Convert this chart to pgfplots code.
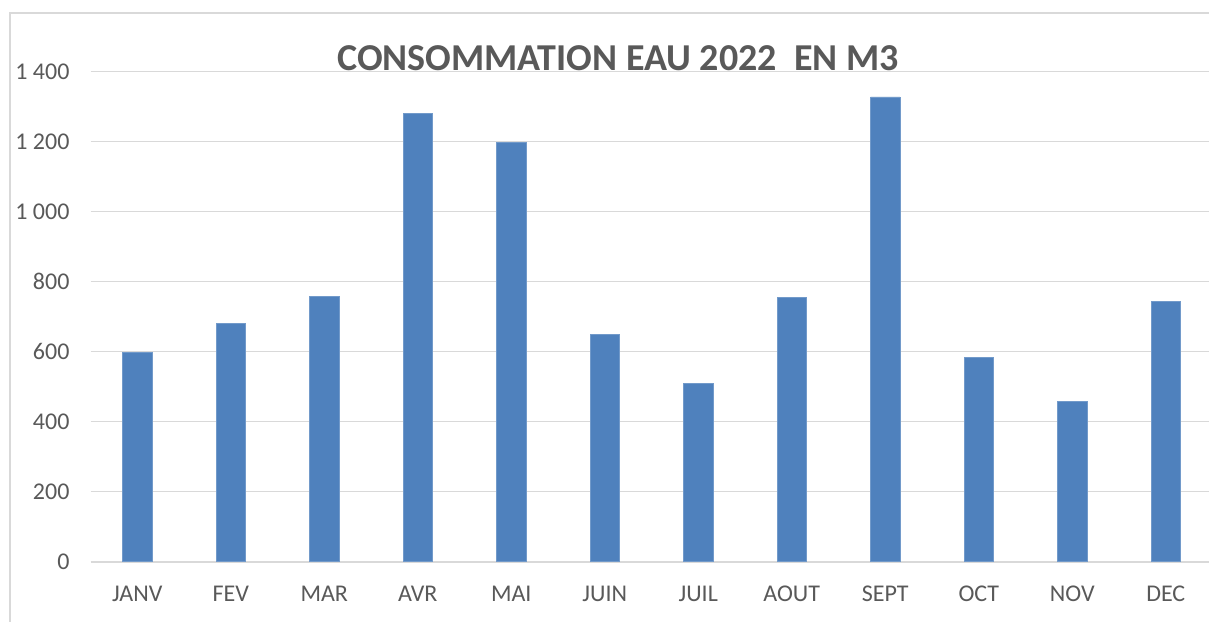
\documentclass[border=0pt]{standalone}
\usepackage{pgfplots}
\pgfplotsset{compat=1.18}
\usepackage{fontspec}
\setmainfont{Carlito}
\definecolor{barblue}{HTML}{4F81BD}
\definecolor{gridgray}{HTML}{D9D9D9}
\definecolor{txtgray}{HTML}{595959}
\begin{document}
\begin{tikzpicture}[x=1pt,y=1pt]
\useasboundingbox (0,0) rectangle (604.5,310.5);
\clip (0,0) rectangle (604.5,310.5);
\fill[white] (0,0) rectangle (604.5,310.5);
\draw[gridgray,line width=1pt] (5,-20) -- (5,304) -- (700,304);
\begin{axis}[
  at={(45.25pt,29.6pt)}, anchor=south west,
  scale only axis, width=561pt, height=245.2pt,
  xmin=-0.5, xmax=11.5, ymin=0, ymax=1400,
  axis line style={draw=none},
  ybar, bar width=14.65pt,
  xtick={0,...,11},
  xticklabels={JANV,FEV,MAR,AVR,MAI,JUIN,JUIL,AOUT,SEPT,OCT,NOV,DEC},
  ytick={0,200,...,1400},
  yticklabels={0,200,400,600,800,1 000,1 200,1 400},
  major tick length=0pt,
  ymajorgrids, grid style={gridgray,line width=0.75pt},
  tick label style={font=\fontsize{12}{14}\selectfont, text=txtgray},
  yticklabel style={xshift=-7pt},
  xticklabel style={yshift=-8.5pt},
  /pgf/number format/assume math mode=true,
  clip=false,
]
\addplot[fill=barblue, draw=barblue!80!white, line width=0.4pt] coordinates {
(0,598) (1,680) (2,757) (3,1279) (4,1198) (5,648) (6,508) (7,754) (8,1327) (9,583) (10,457) (11,742)
};
\end{axis}
\node[font=\bfseries\fontsize{19}{22}\selectfont, text=txtgray] at (309,281.5) {CONSOMMATION EAU 2022\ \ EN M3};
\end{tikzpicture}
\end{document}
